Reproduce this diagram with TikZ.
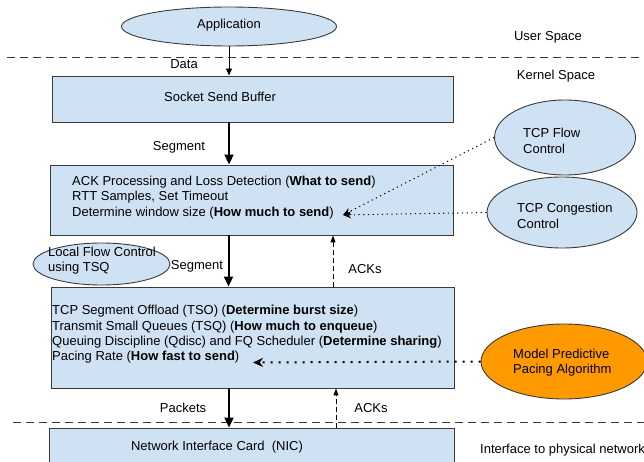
\documentclass[tikz,border=0pt]{standalone}
\usepackage{fontspec}
\setmainfont{Liberation Sans}
\usetikzlibrary{shapes.geometric,arrows.meta}
\definecolor{boxblue}{HTML}{CFE2F3}
\definecolor{pacing}{HTML}{FF9900}
\definecolor{edgegray}{HTML}{3A3A3A}
\tikzset{
  txt/.style={font=\fontsize{13}{15.3}\selectfont, inner sep=0pt},
  boxnode/.style={draw=edgegray, fill=boxblue, line width=0.9pt, rectangle, inner sep=0pt},
  ellnode/.style={draw=edgegray, fill=boxblue, line width=0.9pt, ellipse, inner sep=0pt},
  sepline/.style={draw=edgegray, line width=0.9pt, dash pattern=on 8pt off 5pt},
  thinarrow/.style={line width=0.9pt, -{Triangle[length=7pt,width=6pt]}},
  thickarrow/.style={line width=2pt, -{Triangle[length=10pt,width=9pt]}},
  ackarrow/.style={line width=1pt, dash pattern=on 5pt off 3pt, -{Triangle[length=7pt,width=5pt]}},
  dotarrow/.style={line width=1pt, dash pattern=on 1.2pt off 3.5pt, -{Stealth[length=8pt,width=7pt]}},
  bigdotarrow/.style={line width=2pt, dash pattern=on 2pt off 6pt, -{Stealth[length=10pt,width=9pt]}},
}
\begin{document}
\begin{tikzpicture}[x=1pt,y=-1pt]
\useasboundingbox (0,0) rectangle (644,462);
\clip (0,0) rectangle (644,462);

% separator lines
\coordinate (sepAl) at (7,57);
\coordinate (sepAr) at (644,57);
\coordinate (sepBl) at (13,422);
\coordinate (sepBr) at (644,422);
\draw[sepline] (sepAl) -- (sepAr);
\draw[sepline] (sepBl) -- (sepBr);

% boxes
\node[boxnode, minimum width=401pt, minimum height=46pt] (box1) at (252.5,99) {};
\node[boxnode, minimum width=403pt, minimum height=70pt] (box2) at (251.5,200) {};
\node[boxnode, minimum width=403pt, minimum height=101pt] (box3) at (252.5,337.5) {};
\node[boxnode, minimum width=405pt, minimum height=50pt] (box4) at (251.5,453) {};

% ellipses
\node[ellnode, minimum width=215pt, minimum height=39pt] (app) at (229,26.5) {};
\node[ellnode, minimum width=141pt, minimum height=75pt] (flow) at (565,137.5) {};
\node[ellnode, minimum width=150pt, minimum height=71pt] (cong) at (562,212.5) {};
\node[ellnode, minimum width=137pt, minimum height=42pt] (local) at (101.5,264) {};
\node[ellnode, fill=pacing, minimum width=166pt, minimum height=75pt] (mpc) at (564,361.5) {};

% texts
\node[txt] (tapp) at (229,25) {Application};
\node[txt] (tuser) at (548,37) {User Space};
\node[txt] (tkern) at (556,76) {Kernel Space};
\node[txt] (tbox1) at (220,97) {Socket Send Buffer};
\node[txt, align=left, anchor=west] (tbox2) at (72,197.5) {ACK Processing and Loss Detection (\textbf{What to send})\\RTT Samples, Set Timeout\\Determine window size (\textbf{How much to send})};
\node[txt, align=left, anchor=west] (tbox3) at (52,334.5) {TCP Segment Offload (TSO) (\textbf{Determine burst size})\\Transmit Small Queues (TSQ) (\textbf{How much to enqueue})\\Queuing Discipline (Qdisc) and FQ Scheduler (\textbf{Determine sharing})\\Pacing Rate (\textbf{How fast to send})};
\node[txt] (tbox4) at (217,447) {Network Interface Card\ \ (NIC)};
\node[txt, align=left, anchor=west] (tflow) at (523,141) {TCP Flow\\Control};
\node[txt, align=left, anchor=west] (tcong) at (517,216) {TCP Congestion\\Control};
\node[txt, align=left, anchor=west] (tlocal) at (48,260.5) {Local Flow Control\\using TSQ};
\node[txt, align=left, anchor=west] (tmpc) at (513,362.5) {Model Predictive\\Pacing Algorithm};
\node[txt, anchor=west] (tphys) at (480,450) {Interface to physical network};

% edge labels
\node[txt] (ldata) at (184,64) {Data};
\node[txt] (lseg1) at (179,147) {Segment};
\node[txt] (lseg2) at (197,266) {Segment};
\node[txt] (lack1) at (365,269) {ACKs};
\node[txt] (lpkt) at (183,408) {Packets};
\node[txt] (lack2) at (371,408) {ACKs};

% flow arrows
\draw[thinarrow] (app.south) -- (app.south |- box1.north);
\coordinate (s1) at (229,122);
\draw[thickarrow] (s1) -- (s1 |- box2.north);
\coordinate (s2) at (228.5,235);
\draw[thickarrow] (s2) -- (s2 |- box3.north);
\coordinate (s3) at (229,388);
\draw[thickarrow] (s3) -- (s3 |- box4.north);
\coordinate (a1) at (333,287);
\draw[ackarrow] (a1) -- (a1 |- box2.south);
\coordinate (a2) at (336,428);
\draw[ackarrow] (a2) -- (a2 |- box3.south);

% dotted control arrows
\coordinate (winsize) at (343,215);
\coordinate (pacerate) at (253,362.5);
\draw[dotarrow] (flow.west) -- (winsize);
\draw[dotarrow] (cong.west) -- (winsize);
\draw[bigdotarrow] (mpc.west) -- (pacerate);
\end{tikzpicture}
\end{document}
